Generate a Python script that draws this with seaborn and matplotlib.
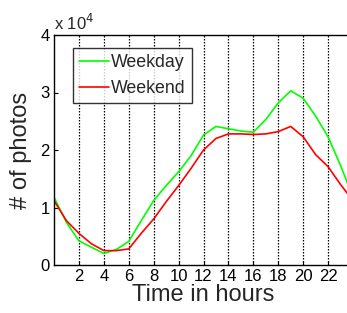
import matplotlib
matplotlib.use("Agg")
import matplotlib.pyplot as plt
import seaborn as sns
import pandas as pd
import numpy as np

hours = list(range(0, 25))
weekday = [11800, 7400, 4200, 3100, 2000, 2700, 4100, 7700, 11200, 13800, 16200, 19000,
           22600, 24100, 23700, 23300, 23100, 25300, 28200, 30300, 29000, 25900, 22300, 17300, 11800]
weekend = [11200, 7700, 5500, 3700, 2500, 2500, 2800, 5500, 8000, 11000, 13800, 16800,
           20000, 22000, 22800, 22800, 22700, 22800, 23200, 24100, 22300, 19200, 17100, 14000, 11200]
series_names = ["Weekday", "Weekend"]
xtick_vals = [2, 4, 6, 8, 10, 12, 14, 16, 18, 20, 22]
ytick_vals = [0, 10000, 20000, 30000, 40000]
ytick_labels = ["0", "1", "2", "3", "4"]

df = pd.DataFrame({
    "hour": hours * 2,
    "photos": weekday + weekend,
    "kind": [series_names[0]] * len(hours) + [series_names[1]] * len(hours),
})

sns.set_style("white")
plt.rcParams['font.family'] = ['Liberation Sans', 'DejaVu Sans']

fig = plt.figure(figsize=(3.47, 3.13), dpi=100)
ax = fig.add_axes([54 / 347, (313 - 265) / 313, (353 - 54) / 347, (265 - 35) / 313])

sns.lineplot(data=df, x="hour", y="photos", hue="kind",
             palette={"Weekday": "#00ff00", "Weekend": "#ff0000"},
             linewidth=1.2, ax=ax, legend=True)

ax.set_xlim(0, 24)
ax.set_ylim(0, 40000)
ax.set_xticks(xtick_vals)
ax.set_xticklabels([str(v) for v in xtick_vals])
ax.set_yticks(ytick_vals)
ax.set_yticklabels(ytick_labels)
ax.tick_params(direction="in", length=3, width=0.8, labelsize=12, pad=3, colors="black")
ax.tick_params(axis="x", top=False, bottom=True)
ax.tick_params(axis="y", left=True)

for v in xtick_vals:
    ax.axvline(v, color="black", linestyle=(0, (1.2, 1.2)), linewidth=0.9, zorder=0)

for s in ax.spines.values():
    s.set_color("black")
    s.set_linewidth(1.0)

ax.set_xlabel("Time in hours", fontsize=17, labelpad=0)
ax.set_ylabel("# of photos", fontsize=17, labelpad=6)

ax.text(0.0, 1.01, "x 10$^4$", transform=ax.transAxes, fontsize=12,
        ha="left", va="bottom")

leg = ax.legend(loc="upper left", bbox_to_anchor=((73 - 54) / 299, (265 - 48) / 230),
                fontsize=12.8, frameon=True, fancybox=False, edgecolor="black",
                handlelength=1.7, handletextpad=0.1, borderpad=0.35, labelspacing=0.5,
                borderaxespad=0)
leg.get_frame().set_linewidth(1.0)
leg.set_title(None)

fig.savefig("out.png", dpi=100)
